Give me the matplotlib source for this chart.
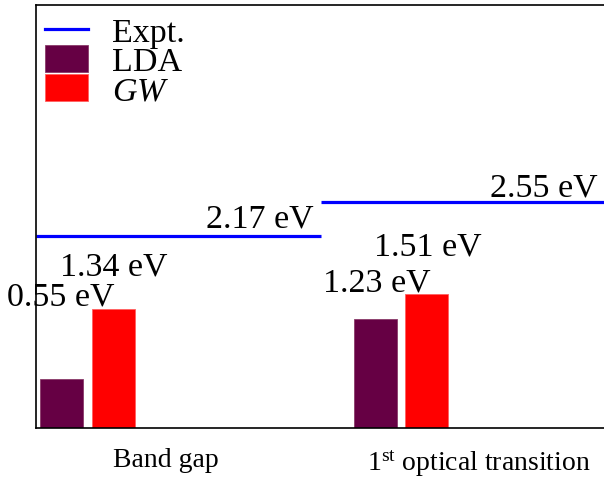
import matplotlib
matplotlib.use("Agg")
import matplotlib.pyplot as plt
from matplotlib.lines import Line2D
from matplotlib.patches import Patch

plt.rcParams['font.family'] = ['Liberation Serif', 'DejaVu Serif']
plt.rcParams['mathtext.fontset'] = 'custom'
plt.rcParams['mathtext.rm'] = 'Liberation Serif'
plt.rcParams['mathtext.it'] = 'Liberation Serif:italic'

# data
categories = ['Band gap', '1$^{\\rm st}$ optical transition']
lda_values = [0.55, 1.23]
gw_values = [1.34, 1.51]
expt_values = [2.17, 2.55]

# layout (data-coordinate positions)
lda_x = [0.014, 1.116]
gw_x = [0.197, 1.296]
bar_width = 0.151
expt_spans = [(0.0, 1.0), (1.0, 2.0)]
tick_pos = [0.458, 1.556]

lda_color = '#660044'
gw_color = '#ff0000'
expt_color = '#0000ff'

fig = plt.figure(figsize=(6.04, 4.81), dpi=100)
ax = fig.add_axes([36/604, 1 - 429/481, 1 - 36/604 + 0.002, (429 - 6)/481])

ax.bar(lda_x, lda_values, width=bar_width, align='edge', color=lda_color, edgecolor='#8a3a6a', linewidth=0.6)
ax.bar(gw_x, gw_values, width=bar_width, align='edge', color=gw_color, edgecolor='#ff6060', linewidth=0.6)
for (x0, x1), v in zip(expt_spans, expt_values):
    ax.plot([x0, x1], [v, v], color=expt_color, lw=2.3, solid_capstyle='butt')

fs = 24.5
# value labels (positions in data coordinates)
lbl = [
    ('0.55 eV', -0.102, 1.39, 'left'),
    ('1.34 eV', 0.0845, 1.73, 'left'),
    ('2.17 eV', 0.975, 2.27, 'right'),
    ('2.55 eV', 1.975, 2.62, 'right'),
    ('1.51 eV', 1.187, 1.955, 'left'),
    ('1.23 eV', 1.007, 1.55, 'left'),
]
for t, x, y, ha in lbl:
    ax.text(x, y, t, fontsize=fs, ha=ha, va='baseline', clip_on=False)

ax.set_xlim(0, 2)
ax.set_ylim(0, 4.77)
ax.set_yticks([])
ax.set_xticks(tick_pos)
ax.set_xticklabels(categories, fontsize=20)
ax.tick_params(axis='x', length=0, pad=14)
ax.spines['right'].set_visible(False)
for s in ['left', 'bottom', 'top']:
    ax.spines[s].set_linewidth(1.2)

handles = [Line2D([], [], color=expt_color, lw=2.3),
           Patch(facecolor=lda_color, edgecolor='#8a3a6a', lw=0.6),
           Patch(facecolor=gw_color, edgecolor='#ff6060', lw=0.6)]
ax.legend(handles, ['Expt.', 'LDA', '$GW$'], loc='upper left',
          bbox_to_anchor=(9/568, 1 - 11/423), frameon=False, fontsize=fs,
          borderpad=0, borderaxespad=0, handlelength=1.26, handleheight=0.85,
          handletextpad=0.7, labelspacing=-0.1)

fig.savefig('out.png', dpi=100)
